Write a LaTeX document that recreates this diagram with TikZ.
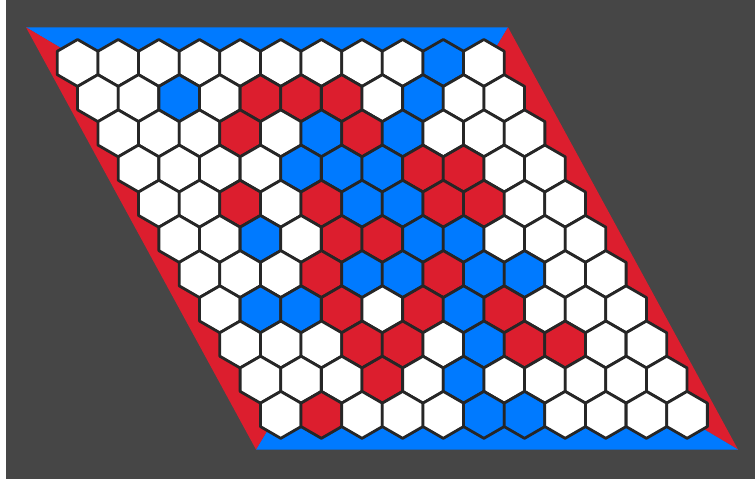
\documentclass[tikz,border=0pt]{standalone}
\usepackage{tikz}
\usetikzlibrary{calc}

\definecolor{boardbg}{HTML}{464646}
\definecolor{cellline}{HTML}{262626}
\definecolor{cellW}{HTML}{FFFFFF}
\definecolor{cellR}{HTML}{DC1E2E}
\definecolor{cellB}{HTML}{007AFF}

\tikzset{
  cell/.style={draw=cellline, line width=2.8pt, line join=round},
  edgeblue/.style={fill=cellB},
  edgered/.style={fill=cellR}
}

\begin{document}
\begin{tikzpicture}[x=1pt, y=-1pt]
\useasboundingbox (0,0) rectangle (755,479);
\fill[boardbg] (0,0) rectangle (755,479);
\fill[white] (0,0) rectangle (6,479);
% board corners
\coordinate (tl) at (26,27.3);
\coordinate (tr) at (508,27.3);
\coordinate (br) at (738,449.5);
\coordinate (bl) at (256,449.5);
\coordinate (mid) at (382,238.4);
\fill[edgeblue] (tl) -- (tr) -- (mid) -- cycle;
\fill[edgered] (tr) -- (br) -- (mid) -- cycle;
\fill[edgeblue] (br) -- (bl) -- (mid) -- cycle;
\fill[edgered] (bl) -- (tl) -- (mid) -- cycle;
% the cells, row by row
\foreach \rowlist [count=\j from 0] in {
  {W,W,W,W,W,W,W,W,W,B,W},
  {W,W,B,W,R,R,R,W,B,W,W},
  {W,W,W,R,W,B,R,B,W,W,W},
  {W,W,W,W,B,B,B,R,R,W,W},
  {W,W,R,W,R,B,B,R,R,W,W},
  {W,W,B,W,R,R,B,B,W,W,W},
  {W,W,W,R,B,B,R,B,B,W,W},
  {W,B,B,R,W,R,B,R,W,W,W},
  {W,W,W,R,R,W,B,R,R,W,W},
  {W,W,W,R,W,B,W,W,W,W,W},
  {W,R,W,W,W,B,B,W,W,W,W}}{
  \foreach \c [count=\i from 0] in \rowlist {
    \pgfmathsetmacro\cx{77.6+40.63*\i+20.315*\j}
    \pgfmathsetmacro\cy{62.96+35.19*\j}
    \draw[cell, fill=cell\c] (\cx,\cy) +(90:23.46) -- +(150:23.46) -- +(210:23.46)
      -- +(270:23.46) -- +(330:23.46) -- +(30:23.46) -- cycle;
  }
}
\end{tikzpicture}
\end{document}
